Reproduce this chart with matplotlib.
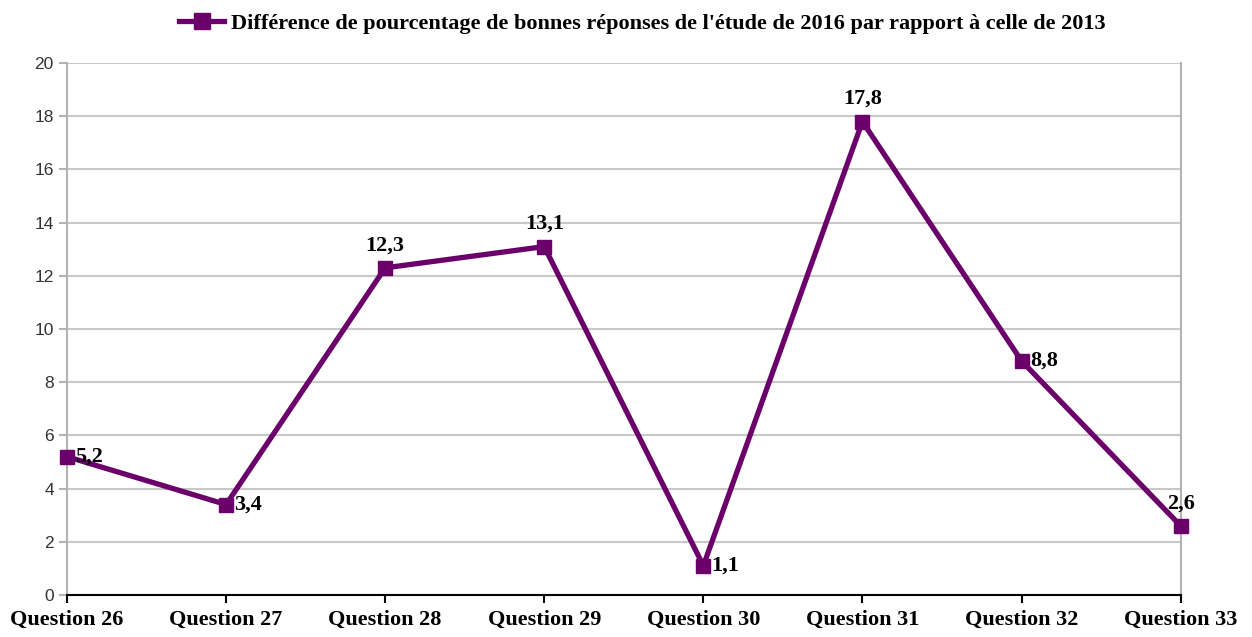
import matplotlib.pyplot as plt

categories = ['Question 26', 'Question 27', 'Question 28', 'Question 29',
              'Question 30', 'Question 31', 'Question 32', 'Question 33']
valeurs = [5.2, 3.4, 12.3, 13.1, 1.1, 17.8, 8.8, 2.6]
# position de l'étiquette : 'r' = à droite, 't' = au-dessus
position_etiquette = ['r', 'r', 't', 't', 'r', 't', 'r', 't']
serie = "Différence de pourcentage de bonnes réponses de l'étude de 2016 par rapport à celle de 2013"

couleur = '#6b006b'
serif = ['Liberation Serif', 'DejaVu Serif']

fig = plt.figure(figsize=(12.52, 6.37), dpi=100)
ax = fig.add_axes([0.0535, 0.066, 0.8895, 0.835])

xx = list(range(len(categories)))
ax.plot(xx, valeurs, color=couleur, linewidth=3.8, marker='s', markersize=10,
        label=serie, zorder=3, clip_on=False)

for x, v, pos in zip(xx, valeurs, position_etiquette):
    txt = f'{v:.1f}'.replace('.', ',')
    if pos == 'r':
        ax.annotate(txt, (x, v), xytext=(6, 0), textcoords='offset points',
                    ha='left', va='center', fontsize=16, fontweight='bold',
                    family=serif, color='black', zorder=4)
    else:
        ax.annotate(txt, (x, v), xytext=(0, 9), textcoords='offset points',
                    ha='center', va='bottom', fontsize=16, fontweight='bold',
                    family=serif, color='black', zorder=4)

ax.set_xlim(0, len(categories) - 1)
ax.set_ylim(0, 20)
ax.set_yticks(range(0, 21, 2))
ax.set_xticks(xx)
ax.set_xticklabels(categories, fontsize=16, fontweight='bold', family=serif)
ax.tick_params(axis='y', labelsize=12.5, colors='#b3b3b3', labelcolor='#333333', length=6, width=1.5)
ax.tick_params(axis='x', colors='black', length=6, width=1.5, pad=5)
for lab in ax.get_yticklabels():
    lab.set_family(['Liberation Sans', 'DejaVu Sans'])

ax.grid(axis='y', color='#c8c8c8', linewidth=1.5)
ax.set_axisbelow(True)
ax.spines['top'].set_visible(False)
ax.spines['left'].set_color('#b3b3b3')
ax.spines['right'].set_color('#b3b3b3')
ax.spines['left'].set_linewidth(1.5)
ax.spines['right'].set_linewidth(1.5)
ax.spines['bottom'].set_color('black')
ax.spines['bottom'].set_linewidth(1.5)

leg = fig.legend(loc='upper center', bbox_to_anchor=(0.513, 1.01), frameon=False,
                 prop={'family': serif, 'weight': 'bold', 'size': 16},
                 handlelength=2.0, handletextpad=0.3, markerscale=1.1)

fig.savefig('out.png', dpi=100)
